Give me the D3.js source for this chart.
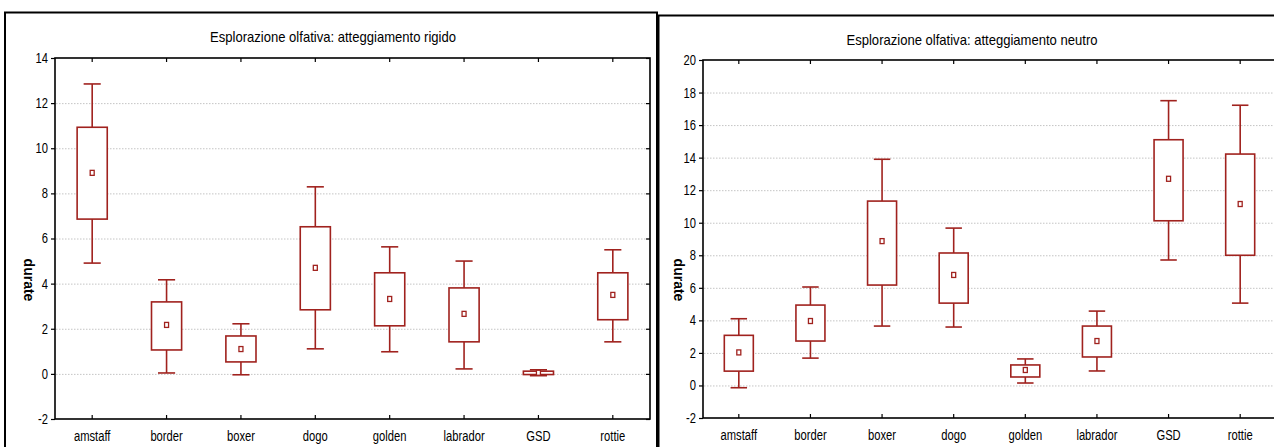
<!DOCTYPE html>
<html>
<head>
<meta charset="utf-8">
<script src="https://cdn.jsdelivr.net/npm/d3@7/dist/d3.min.js"></script>
<style>
  html, body { margin: 0; padding: 0; background: #fff; }
  svg { display: block; }
  text { font-family: "Liberation Sans", Arial, sans-serif; fill: #000; }
</style>
</head>
<body>
<svg id="chart" width="1274" height="447"></svg>
<script>
// ---- data ----
const categories = ["amstaff", "border", "boxer", "dogo", "golden", "labrador", "GSD", "rottie"];

const rigidTitle = "Esplorazione olfativa: atteggiamento rigido";
const rigidWhiskerLow  = [4.91, 0.04, -0.04, 1.11, 0.98, 0.22, -0.08, 1.42];
const rigidBoxLow      = [6.86, 1.06, 0.53, 2.84, 2.13, 1.42, -0.03, 2.40];
const rigidMean        = [8.91, 2.17, 1.10, 4.70, 3.32, 2.66, 0.05, 3.50];
const rigidBoxHigh     = [10.93, 3.19, 1.68, 6.52, 4.48, 3.81, 0.12, 4.48];
const rigidWhiskerHigh = [12.85, 4.17, 2.22, 8.29, 5.63, 5.00, 0.18, 5.50];
const rigidTicks = [-2, 0, 2, 4, 6, 8, 10, 12, 14];

const neutralTitle = "Esplorazione olfativa: atteggiamento neutro";
const neutralWhiskerLow  = [-0.14, 1.68, 3.65, 3.59, 0.15, 0.89, 7.71, 5.06];
const neutralBoxLow      = [0.88, 2.73, 6.17, 5.06, 0.52, 1.75, 10.12, 8.00];
const neutralMean        = [2.03, 3.96, 8.87, 6.79, 0.95, 2.73, 12.70, 11.15];
const neutralBoxHigh     = [3.08, 4.94, 11.33, 8.14, 1.26, 3.65, 15.10, 14.22];
const neutralWhiskerHigh = [4.10, 6.05, 13.90, 9.67, 1.63, 4.57, 17.50, 17.22];
const neutralTicks = [-2, 0, 2, 4, 6, 8, 10, 12, 14, 16, 18, 20];

const yLabel = "durate";

// ---- drawing ----
const svg = d3.select("#chart");
const RED = "#a0221e";

function squeeze(sel, k) {
  sel.each(function () {
    const L = this.getComputedTextLength();
    d3.select(this).attr("textLength", L * k).attr("lengthAdjust", "spacingAndGlyphs");
  });
}

// panel frames
svg.append("path").attr("d", "M5,447 V12.5 H657 V447")
  .attr("fill", "none").attr("stroke", "#000").attr("stroke-width", 2);
svg.append("path").attr("d", "M658.5,447 V15.5 H1274")
  .attr("fill", "none").attr("stroke", "#000").attr("stroke-width", 2);

function drawPanel(cfg) {
  const g = svg.append("g");
  const x = d3.scaleBand().domain(categories).range([cfg.x0, cfg.x1]);
  const y = d3.scaleLinear().domain(cfg.domain).range([cfg.y1, cfg.y0]);
  const bw = x.bandwidth();

  // title
  const t = g.append("text").attr("x", cfg.titleX).attr("y", cfg.titleY)
    .attr("text-anchor", "middle").attr("font-size", 15).text(cfg.title);
  squeeze(t, 0.87);

  // grid
  g.append("g").selectAll("line")
    .data(cfg.ticks.filter(v => v > cfg.domain[0] && v < cfg.domain[1]))
    .join("line")
    .attr("x1", cfg.x0 + 1).attr("x2", cfg.x1 - 1)
    .attr("y1", d => y(d) + 0.5).attr("y2", d => y(d) + 0.5)
    .attr("stroke", "#c4c4c4").attr("stroke-width", 1).attr("stroke-dasharray", "1.5,1.5");

  // axes
  const fmt = d => String(d);
  const left = g.append("g").attr("transform", `translate(${cfg.x0},0)`)
    .call(d3.axisLeft(y).tickValues(cfg.ticks).tickSize(4).tickPadding(3).tickFormat(fmt));
  const axes = [left];
  if (cfg.rightTicks) {
    const right = g.append("g").attr("transform", `translate(${cfg.x1},0)`)
      .call(d3.axisLeft(y).tickValues(cfg.ticks).tickSize(4).tickFormat(""));
    axes.push(right);
  }
  const bottom = g.append("g").attr("transform", `translate(0,${cfg.y1})`)
    .call(d3.axisBottom(x).tickSize(-4).tickPadding(12));
  const top = g.append("g").attr("transform", `translate(0,${cfg.y0})`)
    .call(d3.axisTop(x).tickSize(-4).tickFormat(""));
  axes.push(bottom, top);
  axes.forEach(a => {
    a.select(".domain").remove();
    a.selectAll("line").attr("stroke", "#000").attr("stroke-width", 1.2);
    a.selectAll("text").attr("font-size", 14).attr("font-family", "Liberation Sans, Arial, sans-serif").attr("fill", "#000");
  });
  squeeze(left.selectAll("text"), 0.8);
  squeeze(bottom.selectAll("text"), 0.8);

  // plot frame
  g.append("rect").attr("x", cfg.x0).attr("y", cfg.y0)
    .attr("width", cfg.x1 - cfg.x0).attr("height", cfg.y1 - cfg.y0)
    .attr("fill", "none").attr("stroke", "#000").attr("stroke-width", 1.6);

  // y label
  g.append("text").attr("transform", `translate(${cfg.labelX},${cfg.labelY}) rotate(90)`)
    .attr("text-anchor", "middle").attr("font-size", 14).attr("font-weight", "bold").text(yLabel);

  // boxes
  const data = categories.map((c, i) => ({
    c, wl: cfg.wl[i], bl: cfg.bl[i], m: cfg.m[i], bh: cfg.bh[i], wh: cfg.wh[i]
  }));
  const boxW = bw * 0.405, capW = bw * 0.23;
  const bg = g.append("g").attr("stroke", RED).attr("stroke-width", 1.6).attr("fill", "none");
  const item = bg.selectAll("g").data(data).join("g")
    .attr("transform", d => `translate(${x(d.c) + bw / 2},0)`);
  item.append("line").attr("x1", 0).attr("x2", 0).attr("y1", d => y(d.wh)).attr("y2", d => y(d.bh));
  item.append("line").attr("x1", 0).attr("x2", 0).attr("y1", d => y(d.bl)).attr("y2", d => y(d.wl));
  item.append("line").attr("x1", -capW / 2).attr("x2", capW / 2).attr("y1", d => y(d.wh)).attr("y2", d => y(d.wh));
  item.append("line").attr("x1", -capW / 2).attr("x2", capW / 2).attr("y1", d => y(d.wl)).attr("y2", d => y(d.wl));
  item.append("rect").attr("x", -boxW / 2).attr("width", boxW)
    .attr("y", d => y(d.bh)).attr("height", d => Math.max(0.5, y(d.bl) - y(d.bh)))
    .attr("fill", "#fff");
  item.append("rect").attr("x", -2).attr("width", 4)
    .attr("y", d => y(d.m) - 2.5).attr("height", 5).attr("fill", "#fff").attr("stroke-width", 1.3);
}

drawPanel({
  title: rigidTitle, titleX: 333, titleY: 42,
  x0: 55, x1: 650, y0: 58, y1: 419, domain: [-2, 14], ticks: rigidTicks, rightTicks: true,
  labelX: 24, labelY: 280,
  wl: rigidWhiskerLow, bl: rigidBoxLow, m: rigidMean, bh: rigidBoxHigh, wh: rigidWhiskerHigh
});
drawPanel({
  title: neutralTitle, titleX: 972, titleY: 45,
  x0: 703, x1: 1276, y0: 60, y1: 418, domain: [-2, 20], ticks: neutralTicks, rightTicks: false,
  labelX: 674, labelY: 280,
  wl: neutralWhiskerLow, bl: neutralBoxLow, m: neutralMean, bh: neutralBoxHigh, wh: neutralWhiskerHigh
});
</script>
</body>
</html>
